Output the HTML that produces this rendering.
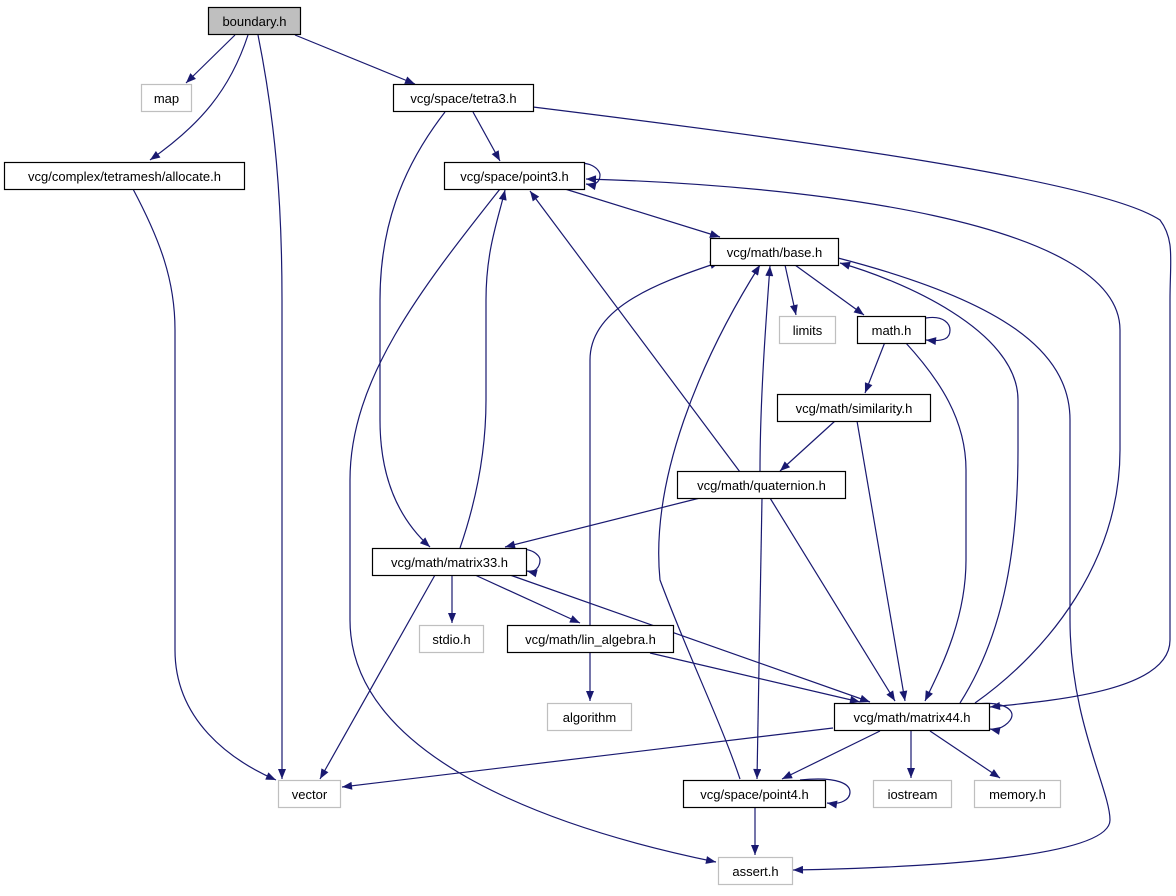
<!DOCTYPE html>
<html><head><meta charset="utf-8"><style>
html,body{margin:0;padding:0;background:#fff;}
svg text{font-family:"Liberation Sans",sans-serif;font-size:13px;fill:#000;}
</style></head><body>
<svg width="1176" height="891" viewBox="0 0 1176 891" xmlns="http://www.w3.org/2000/svg">
<defs>
<marker id="a" viewBox="0 0 10 8" refX="10" refY="4" markerWidth="11" markerHeight="8" markerUnits="userSpaceOnUse" orient="auto">
<path d="M0,0 L10,4 L0,8 z" fill="#191970"/>
</marker>
</defs>
<g fill="none" stroke="#191970" stroke-width="1.2" marker-end="url(#a)">
<path d="M235,35 L186,83"/>
<path d="M248,35 C230,90 200,125 150,160"/>
<path d="M258,35 C275,120 282,200 282,300 L282,779"/>
<path d="M295,35 L415,84"/>
<path d="M473,112 L500,161"/>
<path d="M445,112 C400,170 380,230 380,300 L380,420 C380,480 400,520 430,547"/>
<path d="M533,107 C800,140 1100,180 1160,220 C1175,240 1170,260 1170,300 L1170,640 C1170,690 1060,700 990,707"/>
<path d="M133,189 C160,240 175,280 175,330 L175,650 C175,720 230,760 276,780"/>
<path d="M568,166 C590,158 600,170 600,175 C600,182 595,186 586,184"/>
<path d="M565,189 L720,237"/>
<path d="M500,189 C420,290 350,380 350,480 L350,620 C350,760 560,830 716,862"/>
<path d="M785,265 L796,315"/>
<path d="M795,265 L864,315"/>
<path d="M838,258 C1000,300 1070,350 1070,420 L1070,620 C1070,720 1110,790 1110,820 C1110,860 900,868 793,870"/>
<path d="M926,318 C945,315 950,325 950,330 C950,338 945,342 926,340"/>
<path d="M885,342 L865,393"/>
<path d="M905,342 C940,380 966,420 966,470 L966,560 C966,620 940,670 925,701"/>
<path d="M835,421 L780,471"/>
<path d="M857,421 L905,701"/>
<path d="M700,498 L505,547"/>
<path d="M740,472 L530,191"/>
<path d="M760,472 C760,400 766,320 770,266"/>
<path d="M762,498 L757,779"/>
<path d="M770,498 L895,701"/>
<path d="M510,551 C530,545 540,555 540,560 C540,567 535,573 527,571"/>
<path d="M460,548 C480,490 486,440 486,400 L486,300 C486,250 498,220 505,190"/>
<path d="M452,575 L452,623"/>
<path d="M475,575 L580,623"/>
<path d="M510,575 L870,702"/>
<path d="M435,575 L320,779"/>
<path d="M590,625 L590,360 C590,310 650,285 720,262"/>
<path d="M590,651 L590,701"/>
<path d="M650,653 L860,702"/>
<path d="M970,705 C1000,700 1012,708 1012,715 C1012,722 1000,731 990,729"/>
<path d="M960,703 C1000,640 1018,560 1018,450 L1018,400 C1018,330 900,280 840,263"/>
<path d="M975,703 C1050,650 1120,560 1120,450 L1120,330 C1120,220 800,185 586,179"/>
<path d="M833,728 L342,787"/>
<path d="M880,731 L782,779"/>
<path d="M911,731 L911,778"/>
<path d="M930,731 L1000,778"/>
<path d="M800,780 C840,776 850,785 850,792 C850,800 840,805 827,803"/>
<path d="M740,779 C720,720 690,660 660,580 C650,480 700,360 760,265"/>
<path d="M755,808 L755,855"/>
</g>
<g stroke-width="1.2">
<rect x="208.5" y="7.5" width="92" height="27" fill="#bfbfbf" stroke="#000"/>
<rect x="141.5" y="84.5" width="50" height="27" fill="#fff" stroke="#bfbfbf"/>
<rect x="393.5" y="84.5" width="140" height="27" fill="#fff" stroke="#000"/>
<rect x="4.5" y="162.5" width="240" height="27" fill="#fff" stroke="#000"/>
<rect x="444.5" y="162.5" width="140" height="27" fill="#fff" stroke="#000"/>
<rect x="710.5" y="238.5" width="128" height="27" fill="#fff" stroke="#000"/>
<rect x="779.5" y="316.5" width="56" height="27" fill="#fff" stroke="#bfbfbf"/>
<rect x="857.5" y="316.5" width="68" height="27" fill="#fff" stroke="#000"/>
<rect x="777.5" y="394.5" width="153" height="27" fill="#fff" stroke="#000"/>
<rect x="677.5" y="471.5" width="168" height="27" fill="#fff" stroke="#000"/>
<rect x="372.5" y="548.5" width="154" height="27" fill="#fff" stroke="#000"/>
<rect x="419.5" y="625.5" width="64" height="27" fill="#fff" stroke="#bfbfbf"/>
<rect x="507.5" y="625.5" width="166" height="27" fill="#fff" stroke="#000"/>
<rect x="547.5" y="703.5" width="84" height="27" fill="#fff" stroke="#bfbfbf"/>
<rect x="834.5" y="703.5" width="155" height="27" fill="#fff" stroke="#000"/>
<rect x="278.5" y="780.5" width="62" height="27" fill="#fff" stroke="#bfbfbf"/>
<rect x="683.5" y="780.5" width="142" height="27" fill="#fff" stroke="#000"/>
<rect x="873.5" y="780.5" width="78" height="27" fill="#fff" stroke="#bfbfbf"/>
<rect x="974.5" y="780.5" width="86" height="27" fill="#fff" stroke="#bfbfbf"/>
<rect x="718.5" y="857.5" width="74" height="27" fill="#fff" stroke="#bfbfbf"/>
</g>
<g text-anchor="middle">
<text x="254.5" y="26">boundary.h</text>
<text x="166.5" y="103">map</text>
<text x="463.5" y="103">vcg/space/tetra3.h</text>
<text x="124.5" y="181">vcg/complex/tetramesh/allocate.h</text>
<text x="514.5" y="181">vcg/space/point3.h</text>
<text x="774.5" y="257">vcg/math/base.h</text>
<text x="807.5" y="335">limits</text>
<text x="891.5" y="335">math.h</text>
<text x="854" y="413">vcg/math/similarity.h</text>
<text x="761.5" y="490">vcg/math/quaternion.h</text>
<text x="449.5" y="567">vcg/math/matrix33.h</text>
<text x="451.5" y="644">stdio.h</text>
<text x="590.5" y="644">vcg/math/lin_algebra.h</text>
<text x="589.5" y="722">algorithm</text>
<text x="912" y="722">vcg/math/matrix44.h</text>
<text x="309.5" y="799">vector</text>
<text x="754.5" y="799">vcg/space/point4.h</text>
<text x="912.5" y="799">iostream</text>
<text x="1017.5" y="799">memory.h</text>
<text x="755.5" y="876">assert.h</text>
</g>
</svg>
</body></html>
